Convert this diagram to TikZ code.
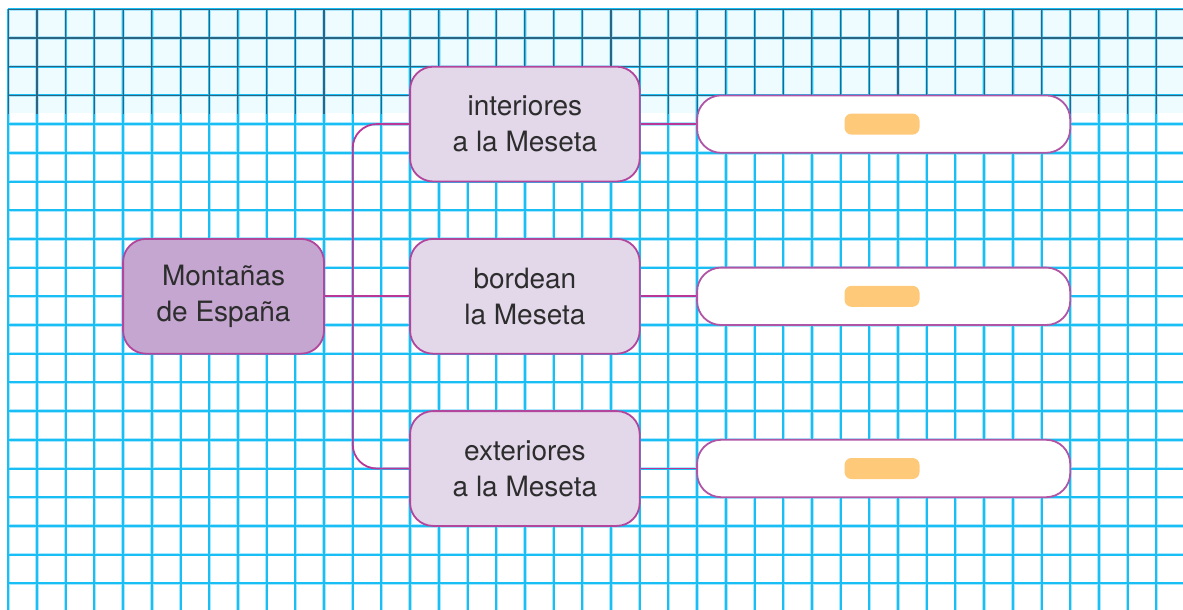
\documentclass[tikz,border=0pt]{standalone}
\usepackage{fontspec}
\setmainfont{TeX Gyre Heros}
\definecolor{gridcyan}{RGB}{25,190,245}
\definecolor{gridhalo}{RGB}{170,230,252}
\definecolor{griddark}{RGB}{45,100,130}
\definecolor{bandbg}{RGB}{238,251,255}
\definecolor{mainfill}{RGB}{196,166,208}
\definecolor{subfill}{RGB}{227,215,234}
\definecolor{boxborder}{RGB}{178,70,156}
\definecolor{connector}{RGB}{185,55,150}
\definecolor{ansborder}{RGB}{176,85,165}
\definecolor{orangebar}{RGB}{255,201,122}
\definecolor{textgray}{RGB}{45,45,45}
\tikzset{
  gridhalo/.style={draw=gridhalo, line width=3.4pt},
  gridline/.style={draw=gridcyan, line width=2pt},
  darkline/.style={draw=griddark, line width=1.1pt},
  basebox/.style={draw=boxborder, line width=1.8pt, rounded corners=23pt,
    align=center, text=textgray, inner sep=0pt,
    font=\fontsize{28}{35.7}\selectfont},
  mainbox/.style={basebox, fill=mainfill, minimum width=200.9pt, minimum height=114.8pt},
  subbox/.style={basebox, fill=subfill, minimum width=229.6pt, minimum height=114.8pt},
  ansbox/.style={draw=ansborder, line width=1.8pt, fill=white, rounded corners=24pt,
    minimum width=373.1pt, minimum height=57.4pt, inner sep=0pt},
  bar/.style={fill=orangebar, rounded corners=7pt, minimum width=75pt,
    minimum height=21pt, inner sep=0pt},
  conn/.style={draw=connector, line width=1.8pt, rounded corners=24pt}
}
\begin{document}
\begin{tikzpicture}[x=1pt,y=-1pt]
\useasboundingbox (0,0) rectangle (1183,610);
\fill[white] (0,0) rectangle (1183,610);
\fill[bandbg] (8.3,9.3) rectangle (1183,113);
% grid
\foreach \k in {0,...,40} \draw[gridhalo] ({8.3+28.7*\k},9.3) -- ({8.3+28.7*\k},610);
\foreach \k in {0,...,20} \draw[gridhalo] (8.3,{9.3+28.7*\k}) -- (1183,{9.3+28.7*\k});
\foreach \k in {0,...,40} \draw[gridline] ({8.3+28.7*\k},9.3) -- ({8.3+28.7*\k},610);
\foreach \k in {0,...,20} \draw[gridline] (8.3,{9.3+28.7*\k}) -- (1183,{9.3+28.7*\k});
\begin{scope}
\clip (0,0) rectangle (1183,113);
\foreach \k in {0,...,40} \draw[darkline] ({8.3+28.7*\k},9.3) -- ({8.3+28.7*\k},610);
\foreach \k in {0,...,20} \draw[darkline] (8.3,{9.3+28.7*\k}) -- (1183,{9.3+28.7*\k});
\end{scope}
% nodes
\node[mainbox] (mont) at (223.55,296.3) {Montañas\\de España};
\node[subbox] (int) at (524.9,124.1) {interiores\\a la Meseta};
\node[subbox] (bord) at (524.9,296.3) {bordean\\la Meseta};
\node[subbox] (ext) at (524.9,468.5) {exteriores\\a la Meseta};
\node[ansbox] (a1) at (883.65,124.1) {};
\node[ansbox] (a2) at (883.65,296.3) {};
\node[ansbox] (a3) at (883.65,468.5) {};
\node[bar] (b1) at (882,124.1) {};
\node[bar] (b2) at (882,296.3) {};
\node[bar] (b3) at (882,468.5) {};
% connectors
\coordinate (tt) at (352.7,124.1);
\coordinate (tb) at (352.7,468.5);
\draw[conn] (int.west) -- (tt) -- (tb) -- (ext.west);
\draw[conn] (mont.east) -- (bord.west);
\draw[conn] (int.east) -- (a1.west);
\draw[conn] (bord.east) -- (a2.west);
\draw[conn] (ext.east) -- (a3.west);
\end{tikzpicture}
\end{document}
